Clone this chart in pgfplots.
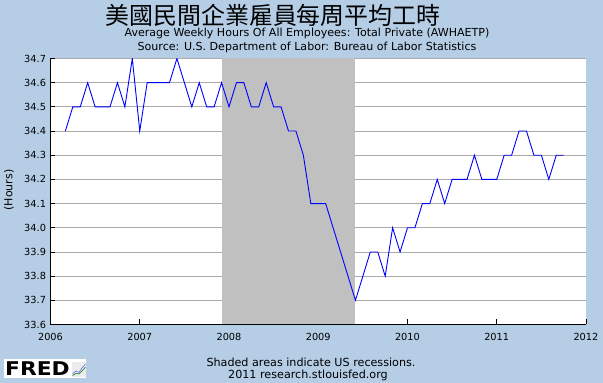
\documentclass[border=0pt]{standalone}
\usepackage{pgfplots}
\pgfplotsset{compat=1.18}
\usepackage{fontspec}
\setmainfont{DejaVu Sans}
\newfontfamily\cjk{Noto Sans CJK TC}
\definecolor{bgblue}{RGB}{181,205,229}
\definecolor{recgray}{RGB}{192,192,192}
\definecolor{gridgray}{RGB}{170,170,170}
\begin{document}
\begin{tikzpicture}
\fill[bgblue] (0bp,0bp) rectangle (603bp,383bp);
\begin{axis}[
  at={(50.5bp,58.5bp)}, anchor=south west,
  scale only axis, width=535.5bp, height=266bp,
  xmin=2006, xmax=2012, ymin=33.6, ymax=34.7,
  axis x line*=bottom, axis y line*=left,
  axis line style={-, black, line width=0.8bp},
  axis background/.style={fill=white},
  xtick={2006,2007,...,2012},
  ytick={33.6,33.7,...,34.75},
  tick align=inside, major tick length=5bp,
  tick style={black, line width=0.8bp},
  ymajorgrids, grid style={gridgray, line width=0.9bp},
  /pgf/number format/assume math mode=true,
  tick label style={font=\fontsize{9.8}{11}\selectfont},
  x tick label style={/pgf/number format/1000 sep={}, yshift=-5bp},
  y tick label style={/pgf/number format/fixed, /pgf/number format/fixed zerofill, /pgf/number format/precision=1, xshift=-1bp},
]
\addplot[draw=none, fill=recgray] coordinates {(2007.9167,33.6) (2007.9167,34.7) (2009.4167,34.7) (2009.4167,33.6)} -- cycle;
\addplot[blue, line width=0.9bp] table {
x y
2006.1667 34.4
2006.25 34.5
2006.3333 34.5
2006.4167 34.6
2006.5 34.5
2006.5833 34.5
2006.6667 34.5
2006.75 34.6
2006.8333 34.5
2006.9167 34.7
2007.0 34.4
2007.0833 34.6
2007.1667 34.6
2007.25 34.6
2007.3333 34.6
2007.4167 34.7
2007.5 34.6
2007.5833 34.5
2007.6667 34.6
2007.75 34.5
2007.8333 34.5
2007.9167 34.6
2008.0 34.5
2008.0833 34.6
2008.1667 34.6
2008.25 34.5
2008.3333 34.5
2008.4167 34.6
2008.5 34.5
2008.5833 34.5
2008.6667 34.4
2008.75 34.4
2008.8333 34.3
2008.9167 34.1
2009.0 34.1
2009.0833 34.1
2009.1667 34.0
2009.25 33.9
2009.3333 33.8
2009.4167 33.7
2009.5 33.8
2009.5833 33.9
2009.6667 33.9
2009.75 33.8
2009.8333 34.0
2009.9167 33.9
2010.0 34.0
2010.0833 34.0
2010.1667 34.1
2010.25 34.1
2010.3333 34.2
2010.4167 34.1
2010.5 34.2
2010.5833 34.2
2010.6667 34.2
2010.75 34.3
2010.8333 34.2
2010.9167 34.2
2011.0 34.2
2011.0833 34.3
2011.1667 34.3
2011.25 34.4
2011.3333 34.4
2011.4167 34.3
2011.5 34.3
2011.5833 34.2
2011.6667 34.3
2011.75 34.3
};
\end{axis}
\node[font=\cjk\fontsize{24}{26}\selectfont, inner sep=0] at (273bp,367.5bp) {美國民間企業雇員每周平均工時};
\node[font=\fontsize{11.1}{13}\selectfont, inner sep=0] at (307bp,349.5bp) {Average Weekly Hours Of All Employees: Total Private (AWHAETP)};
\node[font=\fontsize{11.1}{13}\selectfont, inner sep=0] at (307bp,335.5bp) {Source: U.S. Department of Labor: Bureau of Labor Statistics};
\node[font=\fontsize{11}{13}\selectfont, rotate=90] at (9bp,193bp) {(Hours)};
\node[font=\fontsize{11.2}{13}\selectfont] at (311bp,21bp) {Shaded areas indicate US recessions.};
\node[font=\fontsize{11.2}{13}\selectfont] at (308bp,7.5bp) {2011 research.stlouisfed.org};
% FRED logo
\fill[white] (4bp,5bp) rectangle (86bp,24bp);
\node[font=\bfseries\fontsize{19}{20}\selectfont, xscale=1.15, anchor=west, inner sep=0] at (5bp,14.5bp) {FRED};
\fill[gray!15] (72bp,6bp) rectangle (86bp,21bp);
\draw[blue!60, line width=0.6bp] (72.5bp,9bp) -- (76bp,12bp) -- (79bp,10.5bp) -- (82bp,15bp) -- (85.5bp,19bp);
\draw[green!50!black, line width=0.6bp] (72.5bp,7.5bp) -- (76bp,9.5bp) -- (79bp,9bp) -- (82bp,12bp) -- (85.5bp,16bp);
\pgfresetboundingbox
\useasboundingbox (0bp,0bp) rectangle (603bp,383bp);
\end{tikzpicture}
\end{document}
